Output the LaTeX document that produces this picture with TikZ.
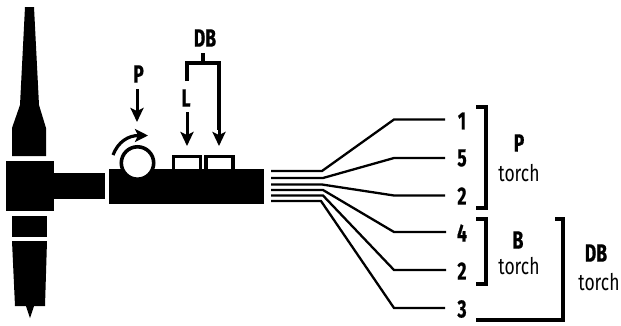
\documentclass[tikz,border=0pt]{standalone}
\usepackage{fontspec}
\setmainfont{Fira Sans}
\newfontfamily\lblbold[FakeStretch=0.70,FakeBold=0.6]{Fira Sans Bold}
\newfontfamily\lblreg[FakeStretch=0.76]{Fira Sans}
\usetikzlibrary{arrows.meta}
\tikzset{
  solid black/.style={fill=black,draw=none},
  wire/.style={line width=2.3pt,line join=miter},
  brk/.style={line width=3.1pt,line join=miter},
  ptr/.style={line width=3pt,-{Stealth[length=14pt,width=13pt,inset=3pt]}},
  num/.style={inner sep=0pt,font=\lblbold\fontsize{25}{25}\selectfont,anchor=center},
  word/.style={inner sep=0pt,font=\lblreg\fontsize{23}{23}\selectfont,anchor=center},
  pad/.style={draw=black,line width=3.1pt,fill=white},
}
\begin{document}
\begin{tikzpicture}[x=1pt,y=-1pt]
\useasboundingbox (0,0) rectangle (621,325);
% torch
\fill[solid black] (25,7) -- (34,7) -- (39,105) -- (46,128) -- (46,156) -- (12,156) -- (12,128) -- (20,105) -- cycle;
\fill[solid black] (6,161) rectangle (54,211);
\fill[solid black] (54,173) rectangle (105,199);
\fill[solid black] (12,216) rectangle (47,237);
\fill[solid black] (12,241) -- (47,241) -- (45,306) -- (34,306) -- (30,318) -- (26,306) -- (15,306) -- cycle;
% pump body
\draw[pad] (173.5,170) -- (173.5,156.5) -- (200.5,156.5) -- (200.5,170);
\draw[pad] (206,170) -- (206,156.5) -- (233,156.5) -- (233,170);
\fill[solid black] (109,169) rectangle (264,204);
\draw[line width=3.6pt,fill=white] (137.5,163) circle (16.2);
% arrows above
\coordinate (rotA) at (113,155);
\coordinate (rotB) at (148,135.5);
\draw[line width=3.2pt,-{Stealth[length=13pt,width=13pt,inset=3pt]}] (rotA) .. controls (118,142) and (128,135.5) .. (rotB);
\node[num] (lp) at (138.5,74) {P};
\node[num] (ll) at (186,98) {L};
\node[num] (ldb) at (205,38) {DB};
\coordinate (pa) at (137,89);
\coordinate (pb) at (137,122);
\draw[ptr] (pa) -- (pb);
\coordinate (la) at (187,112);
\coordinate (lb) at (187,146);
\draw[ptr] (la) -- (lb);
\coordinate (da) at (187,81);
\coordinate (dc) at (219,146);
\coordinate (ds) at (203,53);
\coordinate (dt) at (203,63);
\draw[brk] (da) |- (dt) -| (219,130);
\draw[ptr] (219,100) -- (dc);
\draw[brk] (ds) -- (dt);
% labels
\node[num] (n1) at (462,121) {1};
\node[num] (n2) at (462,158) {5};
\node[num] (n3) at (462,196) {2};
\node[num] (n4) at (462,233) {4};
\node[num] (n5) at (462,271) {2};
\node[num] (n6) at (462,309) {3};
% wires
\foreach \name/\ys/\xb/\ye/\xe in {n1/171/322/119.5/445,n2/178/323/158/445,n3/184.5/322/195.5/445,n4/190/323/232/446,n5/195.5/323/270/446,n6/201/321/308/445}{
  \coordinate (s\name) at (271,\ys);
  \coordinate (e\name) at (\xe,\ye);
  \draw[wire] (s\name) -- (\xb,\ys) -- (394,\ye) -- (e\name);
}
% brackets
\coordinate (bp1) at (476,107); \coordinate (bp2) at (476,208);
\draw[brk] (bp1) -- (486,107) -- (486,208) -- (bp2);
\coordinate (bb1) at (476,219); \coordinate (bb2) at (476,284);
\draw[brk] (bb1) -- (486,219) -- (486,284) -- (bb2);
\coordinate (bd1) at (476,320); \coordinate (bd2) at (555,219);
\draw[brk] (bd1) -- (563,320) -- (563,219) -- (bd2);
\node[num] (tp) at (519,143) {P};
\node[word] (tpw) at (519,173) {torch};
\node[num] (tb) at (518,240) {B};
\node[word] (tbw) at (519,266) {torch};
\node[num] (td) at (596,253) {DB};
\node[word] (tdw) at (599,282) {torch};
\end{tikzpicture}
\end{document}
